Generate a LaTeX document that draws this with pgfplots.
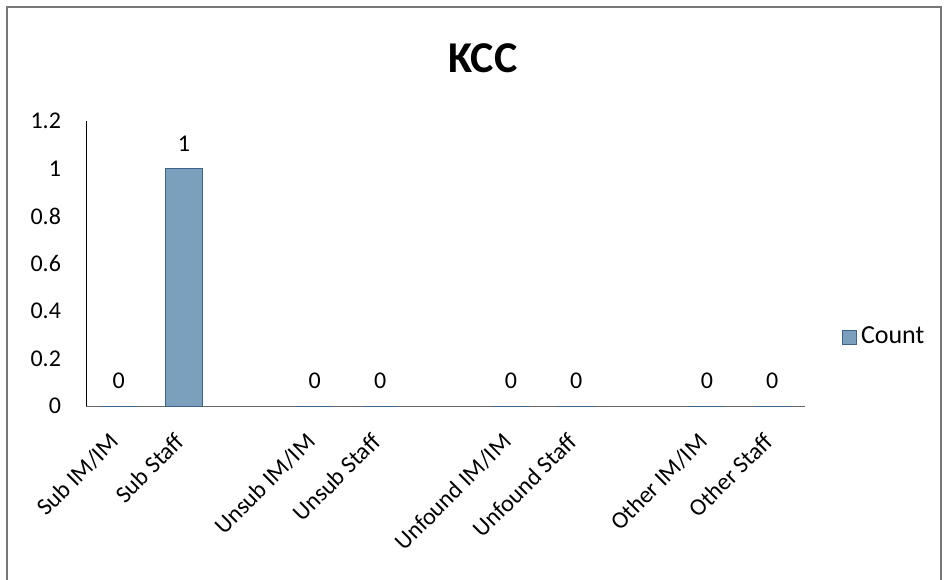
\documentclass[border=0pt]{standalone}
\usepackage{fontspec}
\setmainfont{Carlito}
\usepackage{pgfplots}
\pgfplotsset{compat=1.18}

\definecolor{barfill}{RGB}{122,160,190}
\definecolor{baredge}{RGB}{62,100,140}
\definecolor{frame}{RGB}{120,120,120}

\begin{document}
\begin{tikzpicture}
% picture in pixels of the reference, 1px = 0.5pt
\useasboundingbox (0,0) rectangle (474pt,-289.5pt);
\draw[frame, line width=0.6pt] (3.5pt,-300pt) -- (3.5pt,-3.5pt) -- (470.5pt,-3.5pt) -- (470.5pt,-300pt);

\node[font=\fontsize{22}{26}\selectfont\bfseries] at (241.5pt,-29pt) {KCC};

\begin{axis}[
  at={(43pt,-203pt)}, anchor=south west,
  scale only axis, width=359.5pt, height=142.5pt,
  xmin=-0.5, xmax=10.5, ymin=0, ymax=1.2,
  ybar, bar width=18.5pt,
  axis x line*=bottom, axis y line*=left,
  x axis line style={draw=gray!80!black,-},
  y axis line style={draw=black,-},
  major tick length=0pt,
  ytick={0,0.2,0.4,0.6,0.8,1,1.2},
  yticklabels={0,0.2,0.4,0.6,0.8,1,1.2},
  yticklabel style={anchor=east, xshift=-9pt},
  xtick={0,1,3,4,6,7,9,10},
  xticklabels={Sub IM/IM,Sub Staff,Unsub IM/IM,Unsub Staff,Unfound IM/IM,Unfound Staff,Other IM/IM,Other Staff},
  xticklabel style={xshift=-5pt, yshift=-12.5pt, rotate=45, anchor=north east, inner sep=0pt},
  tick label style={font=\fontsize{12}{14}\selectfont},
  nodes near coords,
  nodes near coords style={font=\fontsize{12}{14}\selectfont, anchor=center, yshift=12.5pt, black},
  /pgf/number format/assume math mode=true,
  clip=false,
  legend style={at={(1.0515,0.242)}, anchor=west, draw=none, fill=none,
    font=\fontsize{13}{15}\selectfont, inner sep=0pt},
  legend image code/.code={\fill[barfill,draw=baredge,line width=0.3pt] (0pt,-3.5pt) rectangle (7pt,3.5pt);},
]
\addplot[fill=barfill, draw=baredge, line width=0.5pt] coordinates {
  (0,0) (1,1) (3,0) (4,0) (6,0) (7,0) (9,0) (10,0)
};
\legend{Count}
\end{axis}
\end{tikzpicture}
\end{document}
